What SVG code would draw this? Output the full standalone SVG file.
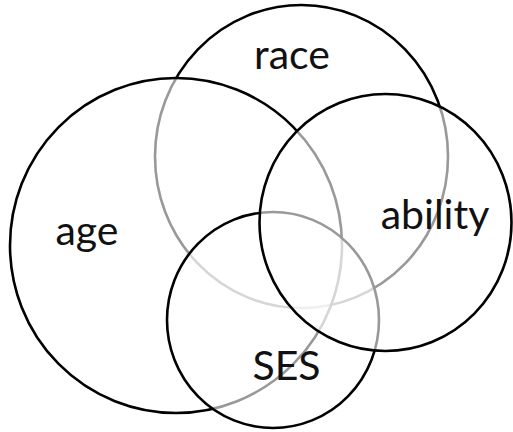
<svg xmlns="http://www.w3.org/2000/svg" width="513" height="432" viewBox="0 0 513 432">
<style>
.set{fill:#fff;fill-opacity:0.6;stroke:#000;stroke-width:2.6}
.lbl{font-family:Lato,"Open Sans","Liberation Sans",sans-serif;font-size:41px;fill:#111;text-anchor:middle}
</style>
<rect width="513" height="432" fill="#fff"/>
<g id="race"><ellipse class="set" cx="301.5" cy="156.5" rx="146.5" ry="151.5"/></g>
<g id="age"><ellipse class="set" cx="176" cy="245.5" rx="166" ry="167.5"/></g>
<g id="ses"><ellipse class="set" cx="273" cy="320" rx="106" ry="108"/></g>
<g id="ability"><ellipse class="set" cx="385.5" cy="222.5" rx="126" ry="128.5"/></g>
<g id="labels">
<text class="lbl" x="292" y="69">race</text>
<text class="lbl" x="435" y="229">ability</text>
<text class="lbl" x="87" y="245">age</text>
<text class="lbl" x="286.5" y="380">SES</text>
</g>
</svg>
